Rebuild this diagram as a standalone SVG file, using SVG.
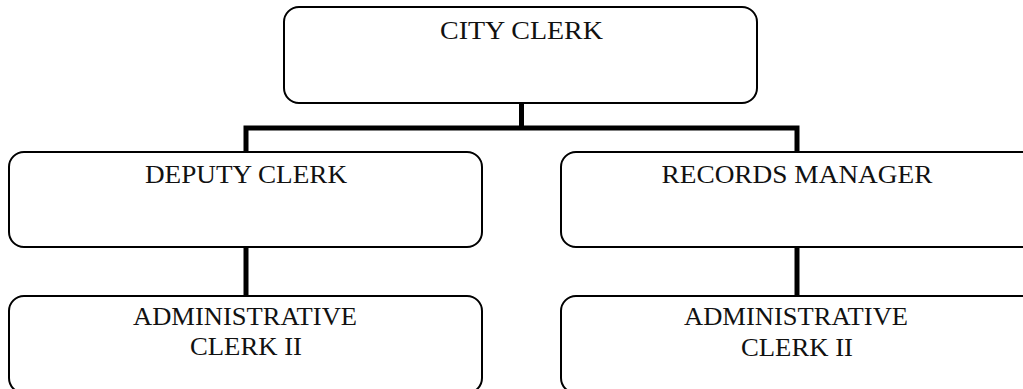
<svg xmlns="http://www.w3.org/2000/svg" width="1023" height="389" viewBox="0 0 1023 389">
<style>
.box{fill:#fff;stroke:#000;stroke-width:2}
.lbl{font-family:"Liberation Serif","Times New Roman",serif;font-size:26px;fill:#111;text-anchor:middle}
.conn{fill:none;stroke:#000;stroke-width:5;stroke-linejoin:miter;stroke-linecap:butt}
</style>
<rect width="1023" height="389" fill="#fff"/>
<g id="connectors">
<line class="conn" x1="521.5" y1="103" x2="521.5" y2="128"/>
<polyline class="conn" points="246,152 246,128 797,128 797,152"/>
<line class="conn" x1="246" y1="247" x2="246" y2="296"/>
<line class="conn" x1="797" y1="247" x2="797" y2="296"/>
</g>
<g id="city-clerk">
<rect class="box" x="284" y="7" width="473" height="96" rx="15"/>
<text class="lbl" x="521.5" y="39" textLength="163" lengthAdjust="spacingAndGlyphs">CITY CLERK</text>
</g>
<g id="deputy-clerk">
<rect class="box" x="9" y="152" width="473" height="95" rx="15"/>
<text class="lbl" x="246" y="183" textLength="202" lengthAdjust="spacingAndGlyphs">DEPUTY CLERK</text>
</g>
<g id="records-manager">
<rect class="box" x="561" y="152" width="476" height="95" rx="15"/>
<text class="lbl" x="797" y="183" textLength="271" lengthAdjust="spacingAndGlyphs">RECORDS MANAGER</text>
</g>
<g id="admin-clerk-left">
<rect class="box" x="9" y="296" width="473" height="97" rx="15"/>
<text class="lbl" x="245" y="325" textLength="224" lengthAdjust="spacingAndGlyphs">ADMINISTRATIVE</text>
<text class="lbl" x="246" y="355" textLength="112" lengthAdjust="spacingAndGlyphs">CLERK II</text>
</g>
<g id="admin-clerk-right">
<rect class="box" x="561" y="296" width="476" height="97" rx="15"/>
<text class="lbl" x="796" y="325" textLength="224" lengthAdjust="spacingAndGlyphs">ADMINISTRATIVE</text>
<text class="lbl" x="797" y="356" textLength="112" lengthAdjust="spacingAndGlyphs">CLERK II</text>
</g>
</svg>
